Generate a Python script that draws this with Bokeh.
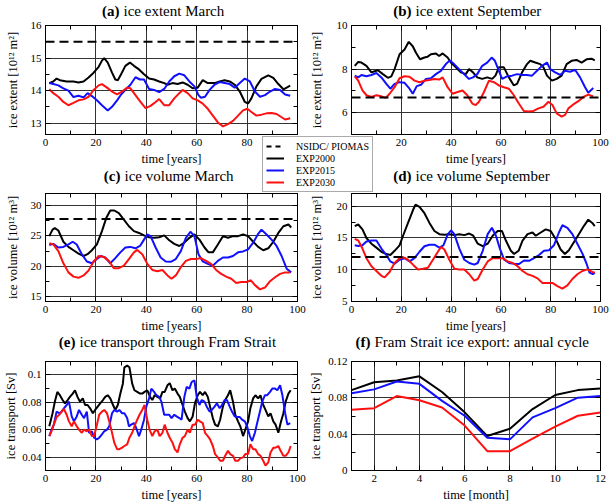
from bokeh.plotting import figure
from bokeh.models import (Range1d, LinearAxis, FixedTicker, Grid, Span, Label, Legend,
                          LegendItem, CustomJSTickFormatter, GridBox, Spacer,
                          GlobalInlineStyleSheet)
from bokeh.embed import file_html
from bokeh.resources import INLINE
from bokeh.core.properties import value

# ---------------- data ----------------
SERIES = ["NSIDC/ PIOMAS", "EXP2000", "EXP2015", "EXP2030"]
OBS_LEVEL = {"a": 15.5, "b": 6.7, "c": 27.8, "d": 12.0}
TITLES = [("(a)", "ice extent March"), ("(b)", "ice extent September"),
          ("(c)", "ice volume March"), ("(d)", "ice volume September"),
          ("(e)", "ice transport through Fram Strait"),
          ("(f)", "Fram Strait ice export: annual cycle")]

# (a) ice extent March
A_X_2000 = [1.5,3.1,4.4,5.7,8.4,11.1,13.1,15.1,17.1,19.1,21.1,22.4,23.3,24.7,26.4,27.7,28.7,30.0,31.7,33.5,35.1,37.1,39.1,41.1,43.1,45.1,47.1,48.4,50.4,52.4,54.4,56.4,58.4,60.4,62.4,64.4,67.1,69.1,71.1,73.1,75.1,77.1,79.1,80.4,81.7,83.7,85.7,88.4,90.4,92.4,94.4,95.7,97.1]
A_Y_2000 = [14.23,14.28,14.37,14.32,14.28,14.28,14.25,14.28,14.4,14.55,14.73,14.92,15.0,14.86,14.55,14.34,14.32,14.5,14.76,14.86,14.76,14.65,14.5,14.37,14.34,14.28,14.23,14.18,14.23,14.2,14.25,14.18,14.07,14.09,14.32,14.23,14.23,14.28,14.32,14.28,14.18,13.97,13.65,13.6,13.76,14.13,14.36,14.47,14.39,14.2,14.04,14.09,14.15]
A_X_2015 = [1.5,3.1,5.1,7.1,9.1,11.1,13.1,15.1,16.7,18.4,20.4,22.4,24.7,26.4,28.4,30.0,31.7,33.7,35.7,37.5,39.1,41.1,43.1,45.1,47.1,49.1,51.1,53.1,55.1,57.1,59.1,60.7,61.7,63.3,65.1,67.1,69.1,71.1,73.1,75.1,77.1,79.1,81.1,83.1,85.1,87.1,89.1,91.1,93.1,95.1,97.1]
A_Y_2015 = [14.23,14.2,14.16,14.07,14.0,13.8,13.84,13.79,13.92,13.83,13.7,13.55,13.39,13.5,13.7,13.88,14.02,14.18,14.41,14.34,14.34,14.05,14.02,13.95,14.05,14.28,14.44,14.52,14.47,14.28,14.13,13.86,13.78,13.81,14.02,14.18,14.26,14.23,14.2,14.09,14.23,14.37,14.28,13.97,13.81,13.86,13.97,14.05,14.02,13.88,13.84]
A_X_2030 = [1.5,3.1,5.1,7.1,9.1,11.1,13.1,15.1,17.1,19.1,21.1,22.4,24.4,26.4,28.4,30.4,32.4,33.7,35.7,37.7,39.7,41.7,43.7,45.1,47.1,49.1,51.1,53.1,54.4,56.4,58.4,60.4,62.4,64.4,66.4,68.4,70.4,72.4,74.4,76.4,78.4,80.1,81.7,83.7,85.7,87.7,89.7,91.7,93.7,95.1,97.1]
A_Y_2030 = [14.04,13.92,13.81,13.65,13.55,13.62,13.7,13.73,13.81,14.02,14.16,14.2,14.09,13.97,13.88,13.97,14.09,14.07,13.86,13.65,13.46,13.53,13.65,13.74,13.55,13.55,13.76,13.92,14.02,13.92,13.76,13.7,13.6,13.44,13.23,13.02,12.9,12.97,13.07,13.23,13.39,13.44,13.34,13.23,13.26,13.3,13.31,13.28,13.18,13.11,13.15]

# (b) ice extent September
B_X_2000 = [1.3,2.7,4.0,6.0,8.0,9.3,10.6,12.6,14.6,16.0,17.3,19.3,21.3,23.0,24.6,25.9,27.5,29.3,30.6,31.9,33.9,35.2,36.6,38.6,39.9,41.9,43.9,45.9,47.2,48.8,50.5,52.5,54.5,56.5,57.8,59.2,61.2,63.2,65.2,66.5,68.5,70.5,71.8,73.8,75.8,77.1,78.5,80.5,82.4,84.4,86.4,88.4,90.4,92.4,94.4,96.4,97.7]
B_Y_2000 = [8.15,8.33,8.3,8.15,7.85,7.9,7.95,7.77,7.6,7.67,8.0,8.68,8.9,9.25,9.05,8.75,8.45,8.53,8.57,8.68,8.72,8.6,8.72,8.53,8.3,8.08,7.85,7.77,8.0,7.85,7.62,7.55,7.62,7.55,7.7,8.08,8.08,7.62,7.25,7.32,7.85,8.23,8.38,8.3,8.23,8.08,7.7,7.47,7.55,7.7,8.23,8.38,8.42,8.3,8.45,8.48,8.4]
B_X_2015 = [1.3,2.7,4.0,6.0,8.0,10.0,12.0,14.0,15.6,17.3,19.3,21.3,23.3,24.6,26.2,27.9,29.9,31.9,33.9,35.9,37.9,39.5,41.2,43.2,45.2,47.2,48.8,50.5,52.5,54.5,56.3,57.6,59.2,60.5,62.5,64.5,66.5,68.5,70.5,72.5,74.5,76.5,78.5,79.8,81.8,83.8,85.8,87.8,89.8,91.8,93.8,95.1,97.1]
B_Y_2015 = [7.7,7.62,7.73,7.67,7.73,7.82,7.62,7.32,7.1,7.32,7.4,7.37,7.1,6.87,7.22,7.28,7.55,7.58,7.77,7.92,8.23,8.4,8.23,8.0,7.77,7.55,7.62,7.77,8.15,8.3,8.53,8.38,7.92,7.55,7.67,7.7,7.77,7.73,7.73,7.7,7.92,8.15,8.3,8.0,7.85,7.73,7.92,7.88,7.97,7.62,7.17,6.92,7.13]
B_X_2030 = [1.3,2.7,4.4,6.0,8.0,10.0,12.0,13.7,15.3,17.3,19.3,21.3,23.3,25.3,27.3,29.3,31.3,33.2,35.2,36.6,38.6,40.6,42.6,44.6,46.5,48.5,49.9,51.2,53.2,55.2,57.2,59.2,61.2,63.2,65.2,67.2,69.2,71.1,73.1,75.1,77.1,79.1,80.7,82.4,84.4,85.8,87.1,89.1,91.1,93.1,95.1,97.1]
B_Y_2030 = [7.67,7.47,7.02,6.8,6.72,6.8,6.75,6.68,6.87,7.17,7.58,7.67,7.65,7.47,7.4,7.47,7.5,7.55,7.52,7.62,7.17,6.87,6.95,7.02,6.8,6.42,6.35,6.5,6.95,7.47,7.4,7.25,7.17,7.1,6.8,6.42,6.08,6.05,6.08,6.2,6.27,6.5,6.35,5.97,5.82,5.9,6.2,6.38,6.53,6.72,6.83,6.75]

# (c) ice volume March
C_X_2000 = [1.5,2.8,3.7,5.1,7.1,9.1,11.1,13.1,15.1,16.7,18.4,20.4,22.4,24.1,25.7,27.3,29.1,31.1,33.1,35.1,37.1,39.1,41.1,43.1,45.1,47.1,49.1,51.1,53.1,55.1,57.1,59.1,61.1,63.1,64.7,66.4,68.4,70.4,72.4,74.4,76.4,78.4,80.4,82.4,84.4,86.4,88.4,90.4,92.4,94.4,96.4,97.5]
C_Y_2000 = [24.97,26.05,26.3,25.9,24.05,23.2,22.65,22.1,21.7,22.0,22.65,23.6,25.8,27.95,29.2,29.2,28.75,27.7,26.6,25.8,25.5,25.1,24.8,24.7,24.8,25.1,24.3,23.7,23.35,23.9,24.7,25.25,24.4,23.1,22.3,22.3,23.6,24.97,24.7,24.97,24.97,25.25,24.97,24.05,23.2,22.65,22.97,24.05,25.5,26.6,26.9,26.4]
C_X_2015 = [1.5,3.1,5.1,7.1,9.1,10.8,12.4,14.4,16.4,18.4,20.4,22.0,23.7,25.7,27.7,29.7,31.7,33.7,35.7,37.5,39.1,40.4,41.7,43.7,45.7,47.7,49.7,51.7,53.7,55.7,57.5,59.1,60.7,62.4,64.4,66.4,68.4,70.4,72.4,74.4,76.4,78.4,80.4,82.4,84.4,85.7,87.7,89.7,91.7,93.7,95.7,97.5]
C_Y_2015 = [23.5,23.7,23.1,23.2,23.6,24.05,23.6,22.0,20.8,20.5,21.2,21.7,21.45,20.5,21.35,22.3,23.1,23.2,22.97,23.35,24.4,25.25,24.97,23.1,21.45,20.8,20.75,21.2,22.5,24.7,25.7,24.97,22.0,20.8,20.4,20.1,20.9,21.45,21.45,21.7,22.3,22.45,22.8,23.9,25.35,26.05,25.25,24.4,23.35,21.7,19.6,19.0]
C_X_2030 = [1.5,3.1,5.1,7.1,9.1,11.1,13.1,15.1,17.1,19.1,21.1,23.1,25.1,27.1,29.1,31.1,33.1,35.1,36.4,38.4,40.4,42.4,44.4,46.4,48.4,50.0,51.7,53.7,55.7,57.7,59.7,61.7,63.7,65.7,67.7,69.7,71.7,73.7,75.7,77.7,79.7,81.5,83.1,85.1,87.1,89.1,91.1,93.1,95.1,97.1]
C_Y_2030 = [23.8,23.6,22.5,20.5,19.0,18.3,18.1,18.5,19.3,20.8,21.7,21.55,20.9,19.7,19.7,20.1,21.2,22.3,22.7,22.0,20.4,19.4,19.2,19.4,18.5,17.95,18.5,19.85,20.9,21.2,21.2,21.35,20.9,20.4,19.4,18.75,18.3,17.95,17.25,17.4,17.4,17.7,16.9,16.2,16.5,17.55,18.2,18.75,19.0,19.0]

# (d) ice volume September
D_X_2000 = [1.3,2.7,4.4,6.0,8.0,10.0,12.0,14.0,15.6,17.3,19.3,20.7,22.7,24.7,25.7,27.3,29.3,31.3,33.3,35.3,37.3,39.3,41.3,43.3,45.3,47.3,48.9,50.7,52.7,54.7,56.7,58.7,60.4,62.0,64.0,65.3,67.1,68.7,70.7,72.7,74.0,76.0,78.0,80.0,82.0,84.0,85.7,87.3,89.3,91.3,93.3,95.1,96.7,97.7]
D_Y_2000 = [16.87,17.12,16.36,15.0,14.1,13.48,12.83,12.47,12.32,12.98,13.84,15.35,17.37,19.4,20.25,19.9,18.9,17.37,16.1,15.6,15.5,15.6,15.45,15.6,15.45,15.7,15.35,14.1,13.7,14.1,15.35,16.1,16.1,14.6,12.98,12.47,12.98,14.6,15.6,15.86,15.35,15.86,16.36,16.1,14.85,13.18,12.47,13.08,14.34,15.6,16.87,17.88,17.37,16.87]
D_X_2015 = [1.3,2.7,4.4,6.0,8.0,10.0,12.0,14.0,15.6,17.3,19.3,21.3,23.3,25.3,27.3,29.3,31.3,33.3,35.3,36.9,38.7,40.0,41.3,43.3,45.3,47.3,49.3,50.7,52.7,54.7,56.4,58.0,59.6,61.3,63.3,65.3,67.3,69.3,71.3,73.3,75.3,77.3,79.3,81.3,83.3,84.7,86.7,88.7,90.7,92.7,94.3,95.6,96.9,97.7]
D_Y_2015 = [13.84,13.74,13.84,14.44,14.6,14.6,13.33,12.32,11.31,10.96,11.57,11.82,11.31,11.82,12.83,13.69,13.94,13.94,13.48,13.84,15.6,16.2,15.6,13.33,11.57,11.06,10.8,11.06,12.98,15.6,16.6,15.35,13.33,11.57,11.06,10.96,10.9,11.46,11.41,11.82,12.32,12.98,13.08,13.84,15.86,17.0,16.6,15.6,14.1,12.58,11.06,9.55,9.3,9.55]
D_X_2030 = [1.3,2.7,4.4,6.0,8.0,10.0,12.0,13.3,15.3,17.3,19.3,20.7,22.7,24.7,26.7,28.7,30.7,32.7,34.7,36.0,37.3,39.3,41.3,43.3,45.3,47.3,49.3,50.7,52.7,54.7,56.7,58.7,60.7,62.7,64.7,66.7,68.7,70.7,72.7,74.7,76.7,78.7,80.7,82.7,84.7,86.7,88.7,90.7,92.7,94.7,96.7,97.7]
D_Y_2030 = [14.85,14.6,13.33,11.82,10.56,9.8,9.04,8.79,9.65,11.06,11.82,11.97,11.57,10.8,10.05,10.15,10.3,11.57,12.83,13.59,13.18,11.57,10.15,10.05,10.05,9.29,8.28,8.54,10.05,11.31,11.82,11.82,11.82,11.31,11.06,10.56,9.8,9.29,9.04,8.64,7.93,7.93,7.93,7.42,7.02,7.53,8.54,9.29,9.8,10.05,9.65,9.55]

# (e) ice transport through Fram Strait
E_X_2000 = [1.5,2.8,3.7,4.7,5.7,6.8,7.7,8.8,9.7,10.8,11.7,12.7,13.7,14.8,15.7,16.7,17.7,18.8,19.7,20.7,21.7,22.8,23.7,24.7,25.7,26.8,27.7,28.7,29.7,30.7,31.3,32.4,33.3,34.4,35.3,36.4,37.5,38.4,39.3,40.4,41.5,42.4,43.3,44.4,45.5,46.4,47.3,48.4,49.3,50.4,51.3,52.4,53.3,54.4,55.3,56.4,57.3,58.4,59.3,60.4,61.3,62.4,63.3,64.4,65.3,66.4,67.3,68.4,69.3,70.4,71.3,72.4,73.3,74.4,75.3,76.4,77.3,78.4,79.3,80.4,81.3,82.4,83.3,84.4,85.3,86.4,87.3,88.4,89.3,90.4,91.3,92.4,93.3,94.4,95.3,96.4,97.3]
E_Y_2000 = [0.0626,0.0721,0.0805,0.0876,0.0852,0.0817,0.0793,0.0817,0.084,0.0864,0.0888,0.084,0.0805,0.0829,0.0781,0.0781,0.0757,0.0721,0.0745,0.0769,0.0793,0.0817,0.084,0.0852,0.0829,0.0781,0.0745,0.0781,0.0864,0.0936,0.1055,0.1067,0.1055,0.0936,0.0888,0.0876,0.0864,0.0864,0.0876,0.0888,0.084,0.0817,0.0852,0.084,0.0829,0.0876,0.0876,0.0924,0.094,0.0888,0.09,0.0864,0.084,0.0781,0.0733,0.0686,0.0662,0.0698,0.0793,0.0852,0.0876,0.0852,0.0876,0.084,0.0769,0.0686,0.0638,0.0626,0.0674,0.0769,0.0817,0.0852,0.0888,0.0805,0.071,0.0662,0.0626,0.0555,0.0602,0.0662,0.0757,0.0829,0.0852,0.0829,0.0852,0.0781,0.0745,0.0698,0.0721,0.0662,0.0638,0.0579,0.065,0.0721,0.0805,0.0864,0.0888]
E_X_2015 = [1.5,2.4,3.3,4.4,5.5,6.4,7.3,8.4,9.3,10.4,11.3,12.4,13.3,14.4,15.3,16.4,17.3,18.4,19.3,20.4,21.3,22.4,23.3,24.4,25.3,26.4,27.3,28.4,29.3,30.4,31.3,32.4,33.1,34.0,35.1,36.0,37.1,38.0,39.1,40.0,41.1,42.0,43.1,44.0,45.1,46.0,47.1,48.0,49.1,50.0,51.1,52.0,53.1,54.0,55.1,56.0,57.1,58.0,59.1,60.0,61.1,62.0,63.1,64.0,65.1,66.0,67.1,68.0,69.1,70.0,71.1,72.0,73.1,74.0,75.1,76.0,77.1,78.0,79.1,80.0,81.1,82.0,83.1,84.0,85.1,86.0,87.1,88.0,89.1,90.0,91.1,92.0,93.1,94.0,95.1,96.0,97.1]
E_Y_2015 = [0.0555,0.0602,0.0638,0.0733,0.0721,0.0733,0.0757,0.0781,0.0805,0.0698,0.0662,0.0698,0.0745,0.071,0.0686,0.0733,0.0579,0.059,0.0543,0.0531,0.0543,0.0567,0.059,0.0602,0.0626,0.0721,0.0745,0.0733,0.0745,0.0721,0.0721,0.0686,0.0626,0.0638,0.065,0.0614,0.0555,0.0602,0.0674,0.0769,0.0829,0.09,0.0876,0.0852,0.084,0.0805,0.071,0.071,0.071,0.0686,0.071,0.0698,0.0686,0.0674,0.084,0.0912,0.09,0.0948,0.096,0.084,0.0781,0.0817,0.0805,0.0769,0.0733,0.0745,0.0769,0.0793,0.0757,0.0781,0.0817,0.0817,0.0769,0.0733,0.0698,0.0693,0.0693,0.0674,0.0662,0.0626,0.0555,0.0519,0.0579,0.065,0.0733,0.0805,0.0852,0.0852,0.0876,0.09,0.09,0.0888,0.0924,0.0852,0.0721,0.0638,0.065]
E_X_2030 = [1.5,2.4,3.3,4.4,5.5,6.4,7.3,8.4,9.3,10.4,11.3,12.4,13.3,14.4,15.3,16.4,17.3,18.4,19.3,20.4,21.3,22.4,23.3,24.4,25.3,26.4,27.3,28.4,29.3,30.4,31.3,32.4,33.3,34.4,35.3,36.4,37.3,38.4,39.3,40.4,41.3,42.4,43.3,44.4,45.3,46.4,47.3,48.4,49.3,50.4,51.3,52.4,53.3,54.4,55.3,56.4,57.3,58.4,59.3,60.4,61.3,62.4,63.3,64.4,65.3,66.4,67.3,68.4,69.3,70.4,71.3,72.4,73.3,74.4,75.3,76.4,77.3,78.4,79.3,80.4,81.3,82.4,83.3,84.4,85.3,86.4,87.3,88.4,89.3,90.4,91.3,92.4,93.3,94.4,95.3,96.4,97.3]
E_Y_2030 = [0.0555,0.059,0.0638,0.0693,0.071,0.0733,0.0752,0.071,0.0662,0.0626,0.0662,0.0626,0.0602,0.0579,0.0602,0.059,0.0602,0.0555,0.0555,0.0638,0.071,0.0733,0.0745,0.0721,0.0662,0.0579,0.0507,0.046,0.046,0.0471,0.0483,0.0495,0.0543,0.0579,0.0626,0.0674,0.071,0.0745,0.0781,0.0674,0.0602,0.0555,0.059,0.0602,0.0555,0.0579,0.0638,0.0579,0.0543,0.0507,0.046,0.0436,0.0495,0.0543,0.0555,0.0602,0.0579,0.0638,0.0638,0.0674,0.0662,0.065,0.0579,0.0555,0.0531,0.0483,0.0424,0.04,0.0376,0.0376,0.0412,0.0448,0.0424,0.0412,0.0376,0.0376,0.0393,0.04,0.0424,0.0424,0.0495,0.046,0.046,0.0424,0.0412,0.0376,0.034,0.0364,0.0436,0.0471,0.0471,0.0483,0.0448,0.0412,0.0412,0.0436,0.0483]

# (f) Fram Strait ice export: annual cycle
MONTHS = [1,2,3,4,5,6,7,8,9,10,11,12]
F_2000 = [0.0885,0.0972,0.099,0.1037,0.0864,0.064,0.0379,0.0459,0.0676,0.0831,0.0885,0.0903]
F_2015 = [0.085,0.0893,0.098,0.0954,0.0766,0.0603,0.0361,0.0343,0.0585,0.0686,0.0802,0.082]
F_2030 = [0.0668,0.0686,0.082,0.0773,0.0694,0.0495,0.0213,0.0213,0.035,0.0484,0.0603,0.0639]

YEAR_TICKS = [0, 20, 40, 60, 80, 100]
YEAR_MINOR = [10, 30, 50, 70, 90]
MONTH_TICKS = [2, 4, 6, 8, 10, 12]
MONTH_MINOR = [1, 3, 5, 7, 9, 11]

for xs, ys in [(A_X_2000, A_Y_2000), (A_X_2015, A_Y_2015), (A_X_2030, A_Y_2030),
               (B_X_2000, B_Y_2000), (B_X_2015, B_Y_2015), (B_X_2030, B_Y_2030),
               (C_X_2000, C_Y_2000), (C_X_2015, C_Y_2015), (C_X_2030, C_Y_2030),
               (D_X_2000, D_Y_2000), (D_X_2015, D_Y_2015), (D_X_2030, D_Y_2030),
               (E_X_2000, E_Y_2000), (E_X_2015, E_Y_2015), (E_X_2030, E_Y_2030)]:
    assert len(xs) == len(ys), (len(xs), len(ys))

# ---------------- styling ----------------
SERIF = "Liberation Serif"
COL = {"EXP2000": "#000000", "EXP2015": "#1010ff", "EXP2030": "#ff1010"}
GRID_COLOR = "#333333"
FMT = CustomJSTickFormatter(code="return String(Number(tick.toFixed(4)));")
BLANK = CustomJSTickFormatter(code="return '';")


def style_axis(ax, show, label=None, standoff=4, label_standoff=1):
    ax.axis_line_color = "black"
    ax.major_tick_in = 5
    ax.major_tick_out = 0
    ax.minor_tick_in = 4
    ax.minor_tick_out = 0
    ax.major_tick_line_color = "black"
    ax.minor_tick_line_color = "black"
    ax.major_label_text_font = SERIF
    ax.major_label_text_font_size = "11px"
    ax.axis_label_text_font = SERIF
    ax.axis_label_text_font_size = "12.5px"
    ax.axis_label_text_font_style = "normal"
    ax.axis_label_text_color = "black"
    if show:
        ax.major_label_text_color = "black"
        ax.major_label_standoff = standoff
        ax.axis_label = label
        ax.axis_label_standoff = label_standoff
    else:
        ax.major_label_text_color = None
        ax.major_label_standoff = 0


def panel(width, height, borders, xr, yr, xt, xm, yt, ym, xlabel, ylabel, ylab_standoff):
    mbl, mbr, mbt, mbb = borders
    p = figure(width=width, height=height, x_range=Range1d(*xr), y_range=Range1d(*yr),
               x_axis_type=None, y_axis_type=None, toolbar_location=None,
               output_backend="svg", title=None,
               min_border_left=mbl, min_border_right=mbr,
               min_border_top=mbt, min_border_bottom=mbb)
    p.outline_line_color = "black"
    p.outline_line_width = 1
    p.background_fill_color = "white"
    p.border_fill_color = "white"
    xtk = FixedTicker(ticks=xt, minor_ticks=xm)
    ytk = FixedTicker(ticks=yt, minor_ticks=ym)
    p.add_layout(Grid(dimension=0, ticker=xtk, grid_line_color=GRID_COLOR, grid_line_width=1))
    p.add_layout(Grid(dimension=1, ticker=ytk, grid_line_color=GRID_COLOR, grid_line_width=1))
    xb = LinearAxis(ticker=xtk, formatter=FMT)
    style_axis(xb, True, xlabel, standoff=4, label_standoff=3)
    p.add_layout(xb, "below")
    xa = LinearAxis(ticker=xtk, formatter=BLANK)
    style_axis(xa, False)
    p.add_layout(xa, "above")
    yl = LinearAxis(ticker=ytk, formatter=FMT)
    style_axis(yl, True, ylabel, standoff=4, label_standoff=ylab_standoff)
    p.add_layout(yl, "left")
    yrr = LinearAxis(ticker=ytk, formatter=BLANK)
    style_axis(yrr, False)
    p.add_layout(yrr, "right")
    return p


def draw_lines(p, series):
    for name, xs, ys in series:
        p.line(xs, ys, line_color=COL[name], line_width=2)


def obs_line(p, level):
    p.add_layout(Span(location=level, dimension="width", line_color="black",
                      line_width=2, line_dash="9 5"))


LW, RW = 306, 303
ROWS = [(168, 25, 34), (167, 25, 34), (169, 26, 34)]  # height, top border, bottom border
LB = (45, 9)
RB = (42, 9)
EXT = "ice extent [10\u00b9\u00b2 m\u00b2]"
VOL = "ice volume [10\u00b9\u00b2 m\u00b3]"
TRN = "ice transport [Sv]"
YRS = "time [years]"

h, t, b = ROWS[0]
pa = panel(LW, h, (*LB, t, b), (0, 100), (12.65, 16), YEAR_TICKS, YEAR_MINOR,
           [13, 14, 15, 16], [13.5, 14.5, 15.5], YRS, EXT, 8)
obs_line(pa, OBS_LEVEL["a"])
draw_lines(pa, [("EXP2000", A_X_2000, A_Y_2000), ("EXP2015", A_X_2015, A_Y_2015), ("EXP2030", A_X_2030, A_Y_2030)])

pb = panel(RW, h, (*RB, t, b), (0, 100), (5, 10), YEAR_TICKS, YEAR_MINOR,
           [6, 8, 10], [5, 7, 9], YRS, EXT, 10)
obs_line(pb, OBS_LEVEL["b"])
draw_lines(pb, [("EXP2000", B_X_2000, B_Y_2000), ("EXP2015", B_X_2015, B_Y_2015), ("EXP2030", B_X_2030, B_Y_2030)])

h, t, b = ROWS[1]
pc = panel(LW, h, (*LB, t, b), (0, 100), (14.2, 32), YEAR_TICKS, YEAR_MINOR,
           [15, 20, 25, 30], [17.5, 22.5, 27.5], YRS, VOL, 8)
obs_line(pc, OBS_LEVEL["c"])
draw_lines(pc, [("EXP2000", C_X_2000, C_Y_2000), ("EXP2015", C_X_2015, C_Y_2015), ("EXP2030", C_X_2030, C_Y_2030)])

pd_ = panel(RW, h, (*RB, t, b), (0, 100), (5, 22), YEAR_TICKS, YEAR_MINOR,
            [5, 10, 15, 20], [7.5, 12.5, 17.5], YRS, VOL, 10)
obs_line(pd_, OBS_LEVEL["d"])
draw_lines(pd_, [("EXP2000", D_X_2000, D_Y_2000), ("EXP2015", D_X_2015, D_Y_2015), ("EXP2030", D_X_2030, D_Y_2030)])

h, t, b = ROWS[2]
pe = panel(LW, h, (*LB, t, b), (0, 100), (0.0305, 0.1097), YEAR_TICKS, YEAR_MINOR,
           [0.04, 0.06, 0.08, 0.1], [0.05, 0.07, 0.09], YRS, TRN, 1)
draw_lines(pe, [("EXP2000", E_X_2000, E_Y_2000), ("EXP2015", E_X_2015, E_Y_2015), ("EXP2030", E_X_2030, E_Y_2030)])

pf = panel(RW, h, (*RB, t, b), (1, 12), (0, 0.12), MONTH_TICKS, MONTH_MINOR,
           [0, 0.04, 0.08, 0.12], [0.02, 0.06, 0.1], "time [month]", TRN, 2)
draw_lines(pf, [("EXP2000", MONTHS, F_2000), ("EXP2015", MONTHS, F_2015), ("EXP2030", MONTHS, F_2030)])

# ---------------- overlay: titles + legend ----------------
OV_W = LW + RW
OV_H = sum(r[0] for r in ROWS)
pl = figure(width=OV_W, height=OV_H, x_range=Range1d(0, 1), y_range=Range1d(0, 1),
            x_axis_type=None, y_axis_type=None, toolbar_location=None,
            output_backend="svg", title=None, min_border=0,
            min_border_left=0, min_border_right=0, min_border_top=0, min_border_bottom=0)
pl.outline_line_color = None
pl.background_fill_alpha = 0
pl.border_fill_alpha = 0

# overlay frame is aligned by the grid with the panels' frames: its bottom-left corner
# coincides with the bottom-left frame corner of panel (e)
TITLE_POS = [(78, 460), (370, 460),
             (79, 295), (370, 295),
             (34, 129), (329, 129)]
for (tag, text), (xs, ys) in zip(TITLES, TITLE_POS):
    pl.add_layout(Label(x=xs - 4, y=ys, x_units="screen", y_units="screen", text=tag,
                        text_font=SERIF, text_font_size="15px", text_font_style="bold",
                        text_align="right", text_baseline="middle", text_color="black"))
    pl.add_layout(Label(x=xs, y=ys, x_units="screen", y_units="screen", text=text,
                        text_font=SERIF, text_font_size="15px", text_font_style="normal",
                        text_align="left", text_baseline="middle", text_color="black"))

r_obs = pl.line([5, 6], [5, 5], line_color="black", line_width=2, line_dash="5 4")
r0 = pl.line([5, 6], [5, 5], line_color=COL["EXP2000"], line_width=2)
r1 = pl.line([5, 6], [5, 5], line_color=COL["EXP2015"], line_width=2)
r2 = pl.line([5, 6], [5, 5], line_color=COL["EXP2030"], line_width=2)
leg = Legend(items=[LegendItem(label=value(SERIES[0]), renderers=[r_obs]),
                    LegendItem(label=value(SERIES[1]), renderers=[r0]),
                    LegendItem(label=value(SERIES[2]), renderers=[r1]),
                    LegendItem(label=value(SERIES[3]), renderers=[r2])],
             location=(217, 278), margin=0, padding=3, spacing=0,
             glyph_width=18, glyph_height=12, label_height=12, label_standoff=12,
             label_text_font=SERIF, label_text_font_size="10px", label_text_color="black",
             border_line_color="#555555", border_line_width=1,
             background_fill_color="white", background_fill_alpha=1)
pl.add_layout(leg)

page_css = GlobalInlineStyleSheet(css="html, body { overflow: hidden !important; }")
top_strip = Spacer(width=0, height=0)
layout = GridBox(children=[(top_strip, 0, 0),
                           (pa, 1, 0), (pb, 1, 1), (pc, 2, 0), (pd_, 2, 1),
                           (pe, 3, 0), (pf, 3, 1), (pl, 0, 0, 4, 2)], spacing=0,
                 stylesheets=[page_css])

open("out.html", "w").write(file_html(layout, INLINE))
